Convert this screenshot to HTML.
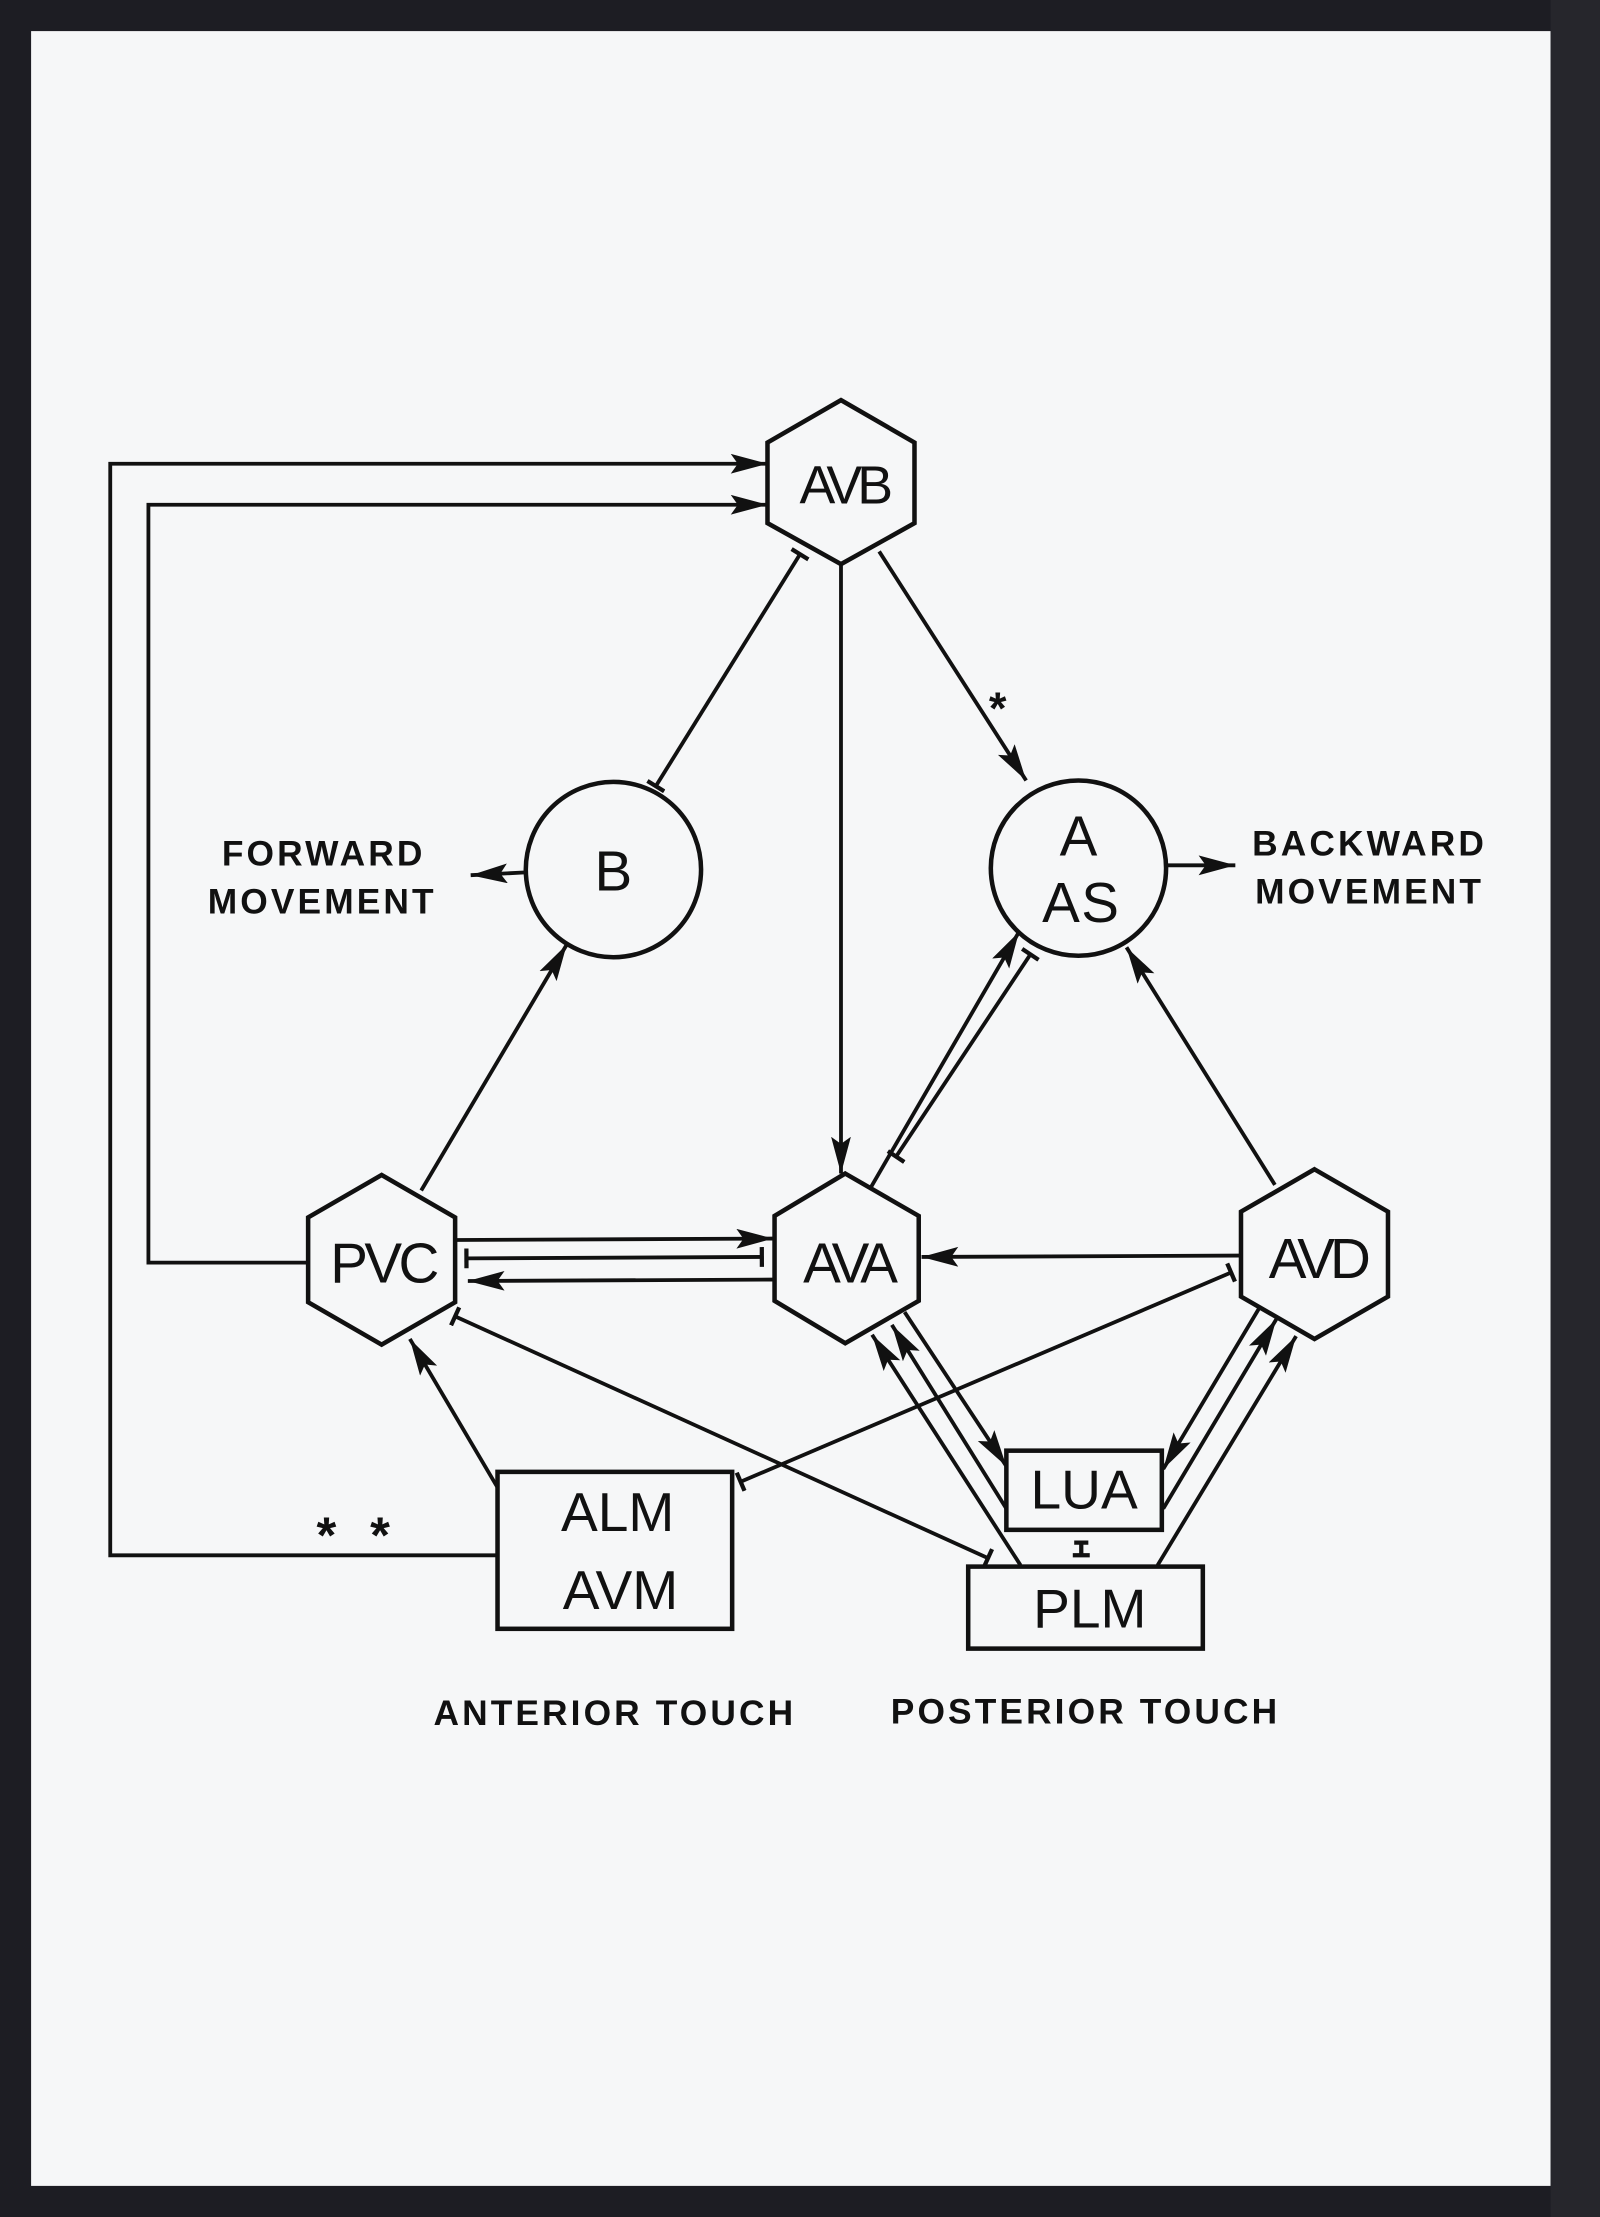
<!DOCTYPE html>
<html><head><meta charset="utf-8"><style>
html,body{margin:0;padding:0;background:#1d1d23;}
svg{display:block;}
</style></head><body>
<svg width="1600" height="2217" viewBox="0 0 1132 1568" preserveAspectRatio="none" xmlns="http://www.w3.org/2000/svg">
<defs>
<marker id="ar" markerUnits="userSpaceOnUse" markerWidth="28" markerHeight="16" refX="26" refY="7" orient="auto"><path d="M0,0 L26,7 L0,14 L5,7 z" fill="#111"/></marker>
<marker id="tb" markerUnits="userSpaceOnUse" markerWidth="6" markerHeight="16" refX="2" refY="7" orient="auto"><path d="M2,0 L2,14" stroke="#111" stroke-width="3"/></marker>
</defs>
<rect x="0" y="0" width="1132" height="1568" fill="#1d1d23"/>
<rect x="1097" y="0" width="35" height="1568" fill="#26262c"/>
<rect x="22" y="22" width="1075" height="1524" fill="#f6f7f8"/>
<g fill="none" stroke="#111" stroke-width="2.7">
<g stroke-width="3.2">
<polygon points="595,283 647,313 647,370 595,399 543,370 543,313"/>
<polygon points="270,831 322,861 322,921 270,951 218,921 218,861"/>
<polygon points="598,830 650,860 650,920 598,950 548,920 548,860"/>
<polygon points="930,827 982,857 982,917 930,947 878,917 878,857"/>
<circle cx="434" cy="615" r="62"/>
<circle cx="763" cy="614" r="62"/>
<rect x="352" y="1041" width="166" height="111"/>
<rect x="712" y="1026" width="110" height="56"/>
<rect x="685" y="1108" width="166" height="58"/>
</g>
<polyline points="352,1100 78,1100 78,328 543,328" marker-end="url(#ar)"/>
<polyline points="218,893 105,893 105,357 543,357" marker-end="url(#ar)"/>
<line x1="566" y1="392" x2="464" y2="556" marker-start="url(#tb)" marker-end="url(#tb)"/>
<line x1="595" y1="399" x2="595" y2="830" marker-end="url(#ar)"/>
<line x1="622" y1="390" x2="726" y2="552" marker-end="url(#ar)"/>
<line x1="372" y1="617" x2="333" y2="619" marker-end="url(#ar)"/>
<line x1="825" y1="612" x2="874" y2="612" marker-end="url(#ar)"/>
<line x1="298" y1="842" x2="401" y2="668" marker-end="url(#ar)"/>
<line x1="616" y1="840" x2="721" y2="659" marker-end="url(#ar)"/>
<line x1="729" y1="675" x2="634" y2="818" marker-start="url(#tb)" marker-end="url(#tb)"/>
<line x1="902" y1="838" x2="797" y2="670" marker-end="url(#ar)"/>
<line x1="322" y1="877" x2="547" y2="876" marker-end="url(#ar)"/>
<line x1="330" y1="890" x2="539" y2="889" marker-start="url(#tb)" marker-end="url(#tb)"/>
<line x1="548" y1="905" x2="331" y2="906" marker-end="url(#ar)"/>
<line x1="878" y1="888" x2="652" y2="889" marker-end="url(#ar)"/>
<line x1="871" y1="900" x2="524" y2="1048" marker-start="url(#tb)" marker-end="url(#tb)"/>
<line x1="699" y1="1102" x2="322" y2="931" marker-start="url(#tb)" marker-end="url(#tb)"/>
<line x1="352" y1="1052" x2="290" y2="947" marker-end="url(#ar)"/>
<line x1="640" y1="928" x2="712" y2="1037" marker-end="url(#ar)"/>
<line x1="712" y1="1067" x2="631" y2="937" marker-end="url(#ar)"/>
<line x1="722" y1="1107" x2="617" y2="944" marker-end="url(#ar)"/>
<line x1="891" y1="925" x2="823" y2="1039" marker-end="url(#ar)"/>
<line x1="823" y1="1067" x2="903" y2="933" marker-end="url(#ar)"/>
<line x1="819" y1="1107" x2="917" y2="945" marker-end="url(#ar)"/>
<path d="M760,1091 L770,1091 M765,1091 L765,1100 M759,1100 L771,1100" stroke-width="3"/>
</g>
<g font-family="Liberation Sans, sans-serif" fill="#111" text-anchor="middle">
<text x="597" y="356" font-size="38" letter-spacing="-3.5">AVB</text>
<text x="434" y="630" font-size="40">B</text>
<text x="763" y="605" font-size="40">A</text>
<text x="765" y="652" font-size="40" letter-spacing="1">AS</text>
<text x="271" y="907" font-size="40" letter-spacing="-2.5">PVC</text>
<text x="600" y="907" font-size="40" letter-spacing="-3.5">AVA</text>
<text x="932" y="904" font-size="40" letter-spacing="-3.5">AVD</text>
<text x="437" y="1083" font-size="39">ALM</text>
<text x="439" y="1138" font-size="39">AVM</text>
<text x="767" y="1067" font-size="39">LUA</text>
<text x="771" y="1151" font-size="39">PLM</text>
<g font-weight="bold" font-size="25" letter-spacing="2.2">
<text x="229" y="612">FORWARD</text>
<text x="228" y="646">MOVEMENT</text>
<text x="969" y="605">BACKWARD</text>
<text x="969" y="639">MOVEMENT</text>
<text x="435" y="1220">ANTERIOR TOUCH</text>
<text x="768" y="1219">POSTERIOR TOUCH</text>
<text x="707" y="512" font-size="32">*</text>
<text x="232" y="1098" font-size="36">*</text>
<text x="270" y="1098" font-size="36">*</text>
</g>
</g>
</svg>
</body></html>
